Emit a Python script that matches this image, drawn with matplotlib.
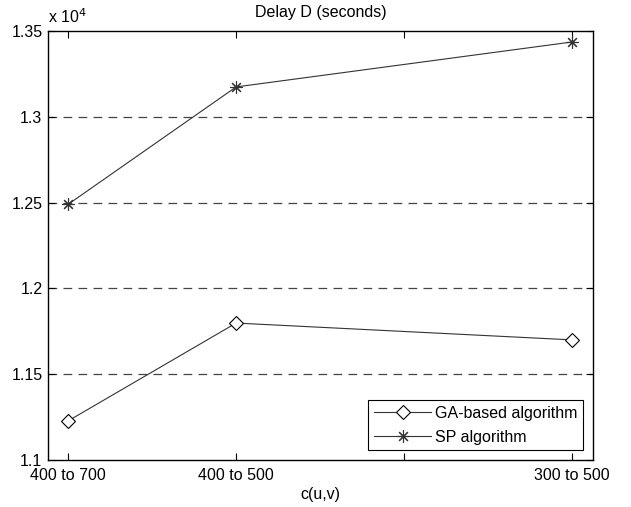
import numpy as np
import matplotlib
matplotlib.use("Agg")
import matplotlib.pyplot as plt
from matplotlib.ticker import FuncFormatter

plt.rcParams['font.family'] = ['Liberation Sans', 'DejaVu Sans']

# data
x_pos = [1, 2, 4]
tick_pos = [1, 2, 3, 4]
tick_labels = ['400 to 700', '400 to 500', '', '300 to 500']
ga_delay = [11228, 11798, 11700]
sp_delay = [12490, 13174, 13436]
y_ticks = [11000, 11500, 12000, 12500, 13000, 13500]

fs = 11.5

fig = plt.figure(figsize=(6.31, 5.07), dpi=100)
ax = fig.add_axes([48 / 631, 47 / 507, 545 / 631, 429 / 507])

ax.plot(x_pos, ga_delay, color='#333333', lw=0.8, marker='D',
        markersize=7, markerfacecolor='white', markeredgecolor='black',
        markeredgewidth=0.8, label='GA-based algorithm')
ax.plot(x_pos, sp_delay, color='#333333', lw=0.8, marker=(8, 2, 0),
        markersize=9, markeredgecolor='#333333',
        markeredgewidth=0.8, label='SP algorithm')

for yv in y_ticks[1:-1]:
    ax.axhline(yv, color='#444444', lw=0.9, dashes=(7, 5), zorder=0)

ax.set_xlim(0.88, 4.125)
ax.set_ylim(11000, 13500)
ax.set_xticks(tick_pos)
ax.set_xticklabels(tick_labels)
ax.set_yticks(y_ticks)
ax.yaxis.set_major_formatter(FuncFormatter(lambda v, p: '%g' % (v / 1e4)))
ax.tick_params(direction='in', top=True, right=True, length=5,
               width=0.8, labelsize=fs)
ax.tick_params(axis='x', pad=6)
ax.tick_params(axis='y', pad=4)
for sp in ax.spines.values():
    sp.set_linewidth(1.0)

ax.set_title('Delay D (seconds)', fontsize=fs, pad=10)
ax.set_xlabel('c(u,v)', fontsize=fs, labelpad=3)
ax.text(0.0, 1.012, r'x 10$^{4}$', transform=ax.transAxes, fontsize=fs,
        ha='left', va='bottom')

leg = ax.legend(loc='lower right', fontsize=fs, numpoints=1, fancybox=False,
                edgecolor='black', framealpha=1, borderaxespad=0.6,
                handlelength=3.6, handletextpad=0.25, borderpad=0.35,
                labelspacing=0.55)
leg.get_frame().set_linewidth(0.8)

fig.savefig('out.png', dpi=100)
